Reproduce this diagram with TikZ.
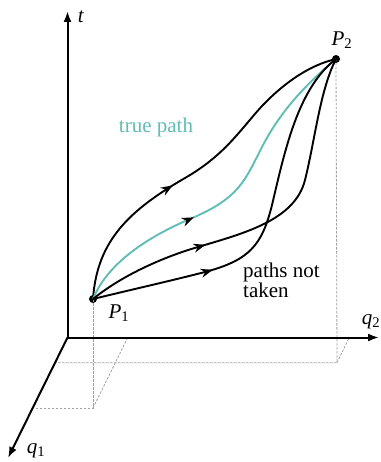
\documentclass[tikz,border=0pt]{standalone}
\usepackage{fontspec}
\setmainfont{Liberation Serif}
\usetikzlibrary{arrows.meta,decorations.markings}
\definecolor{truecol}{RGB}{95,189,181}
\definecolor{dashcol}{RGB}{160,160,160}
\tikzset{
  axis/.style={line width=2pt,-{Latex[length=11pt,width=8pt]}},
  guide/.style={draw=dashcol,line width=0.8pt,dash pattern=on 2.5pt off 1.5pt},
  pathline/.style={line width=1.9pt},
  midarrow/.style={postaction={decorate,decoration={markings,
      mark=at position #1 with {\arrow{Stealth[length=12pt,width=9pt,black]}}}}},
  dot/.style={circle,fill=black,inner sep=0pt,minimum size=8pt},
  lbl/.style={font=\fontsize{21}{20}\selectfont,inner sep=0pt},
}
\begin{document}
\begin{tikzpicture}[x=1pt,y=-1pt]
\useasboundingbox (0,0) rectangle (380,462);
% axes
\coordinate (O) at (67.5,337.5);
\coordinate (Tt) at (67.5,11);
\coordinate (Q2t) at (379,337.5);
\coordinate (Q1t) at (8,458);
% floor points
\coordinate (F1) at (93,408);
\coordinate (A1) at (35,408);
\coordinate (B1) at (127.7,337.5);
\coordinate (F2) at (337,362.7);
\coordinate (A2) at (56,362.7);
\coordinate (B2) at (349.3,337.5);
\node[dot] (P1) at (93,299) {};
\node[dot] (P2) at (336,59) {};
% guides
\draw[guide] (P1.center) -- (F1) -- (A1);
\draw[guide] (F1) -- (B1);
\draw[guide] (P2.center) -- (F2) -- (A2);
\draw[guide] (F2) -- (B2);
\draw[axis] (O) -- (Tt);
\draw[axis] (O) -- (Q2t);
\draw[axis] (O) -- (Q1t);
% paths
\draw[pathline,midarrow=0.41] (P1.center) .. controls (97,240) and (130,210) .. (185,178)
  .. controls (225,155) and (240,130) .. (262,106)
  .. controls (285,82) and (310,65) .. (P2.center);
\draw[pathline,draw=truecol,midarrow=0.38] (P1.center) .. controls (108,262) and (150,236) .. (190,219)
  .. controls (240,198) and (245,180) .. (262,147)
  .. controls (280,112) and (305,85) .. (P2.center);
\draw[pathline,midarrow=0.335] (P1.center) .. controls (120,277) and (160,258) .. (198,247)
  .. controls (245,233) and (295,220) .. (305,180)
  .. controls (315,140) and (320,90) .. (P2.center);
\draw[pathline,midarrow=0.325] (P1.center) .. controls (130,290) and (170,281) .. (205,272)
  .. controls (250,260) and (262,245) .. (272,205)
  .. controls (285,150) and (298,88) .. (P2.center);
% labels
\node[lbl] (tl) at (81,17) {\textit{t}};
\node[lbl] (q2l) at (371,322) {\textit{q}\textsubscript{2}};
\node[lbl] (q1l) at (36,451) {\textit{q}\textsubscript{1}};
\node[lbl] (P1l) at (119,313) {\textit{P}\textsubscript{1}};
\node[lbl] (P2l) at (342,40) {\textit{P}\textsubscript{2}};
\node[lbl,text=truecol] (tp) at (156,127) {true path};
\node[lbl,anchor=north west,align=left] (pnt) at (243,263) {paths not\\taken};
\end{tikzpicture}
\end{document}
